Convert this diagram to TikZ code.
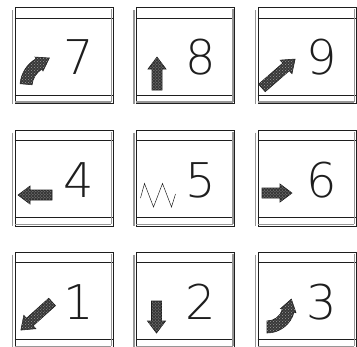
\documentclass[tikz,border=0pt]{standalone}
\usepackage{fontspec}
\usetikzlibrary{calc,patterns}
\newfontfamily\keyfont{DejaVu Sans ExtraLight}
\definecolor{bevel}{RGB}{150,150,150}
\definecolor{ink}{RGB}{30,30,30}
\tikzset{
  keycap/.style={rectangle,draw=ink,line width=0.6bp,inner sep=0pt,
    minimum width=98bp,minimum height=96bp},
  rim/.style={draw=ink,line width=0.6bp},
  shade line/.style={draw=bevel,line width=1.5bp},
  numeral/.style={font=\keyfont\fontsize{48}{48}\selectfont,text=ink,inner sep=0pt},
  hatched/.style={draw=ink,line width=0.6bp,fill=black!78,
    postaction={pattern=crosshatch dots,pattern color=white!60!black}},
  % pictograms
  pics/flat arrow/.style={code={
    \path[hatched] (-#1,-5) -- (#1-12,-5) -- (#1-12,-9) -- (#1,0) -- (#1-12,9) -- (#1-12,5) -- (-#1,5) -- cycle;
  }},
  pics/flat arrow/.default=17,
  pics/swing right/.style={code={
    \begin{scope}[shift={(-12,31)}]
      \path[hatched] (185:32) arc (185:240:32) -- (240:34) -- ($(240:26)+(330:12)$)
        -- (240:18) -- (240:20) arc (240:185:20) -- cycle;
    \end{scope}
  }},
  pics/swing up/.style={code={
    \begin{scope}[shift={(-40,5)}]
      \path[hatched] (90:28) arc (90:15:28) -- (15:30) -- ($(15:22)+(-75:12)$)
        -- (15:14) -- (15:16) arc (15:90:16) -- cycle;
    \end{scope}
  }},
  pics/zigzag/.style={code={
    \draw[ink,line width=0.5bp] (-45,20) -- (-41,5.5) -- (-32,29) -- (-23,5.5) -- (-14,29) -- (-10,16);
  }},
}

\begin{document}
\begin{tikzpicture}[x=1bp,y=-1bp]
  \useasboundingbox (0,0) rectangle (357,347);
  % keys
  \node[keycap] (k7) at (64,55.5) {};
  \node[keycap] (k8) at (185.5,55.5) {};
  \node[keycap] (k9) at (307,55.5) {};
  \node[keycap] (k4) at (64,178) {};
  \node[keycap] (k5) at (185.5,178) {};
  \node[keycap] (k6) at (307,178) {};
  \node[keycap] (k1) at (64,300) {};
  \node[keycap] (k2) at (185.5,300) {};
  \node[keycap] (k3) at (307,300) {};
  \foreach \k in {k1,k2,k3,k4,k5,k6,k7,k8,k9} {
    \draw[rim] ([yshift=-11bp]\k.north west) -- ([yshift=-11bp]\k.north east);
    \draw[rim] ([yshift=9bp]\k.south west) -- ([yshift=9bp]\k.south east);
    \draw[shade line] ([xshift=-2bp,yshift=-3bp]\k.north west) -- ([xshift=-2bp]\k.south west);
    \draw[shade line] ([xshift=-2bp,yshift=-2bp]\k.north east) -- ([xshift=-2bp,yshift=2bp]\k.south east);
    \draw[shade line] ([yshift=2bp]\k.south west) -- ([xshift=-2bp,yshift=2bp]\k.south east);
  }
  % numbers
  \foreach \d in {1,...,9}
    \node[numeral] (n\d) at ($(k\d)+(15,2)$) {\d};
  % arrows
  \pic at (k7) {swing right};
  \pic[rotate=90] at ($(k8)+(-28.5,18)$) {flat arrow=16.5};
  \pic[rotate=41] at ($(k9)+(-28.5,18)$) {flat arrow=22};
  \pic[rotate=180] at ($(k4)+(-29,17)$) {flat arrow};
  \pic at (k5) {zigzag};
  \pic at ($(k6)+(-30,15)$) {flat arrow=15};
  \pic[rotate=222] at ($(k1)+(-27.5,16)$) {flat arrow=21};
  \pic[rotate=-90] at ($(k2)+(-29,17)$) {flat arrow=16};
  \pic at (k3) {swing up};
\end{tikzpicture}
\end{document}
